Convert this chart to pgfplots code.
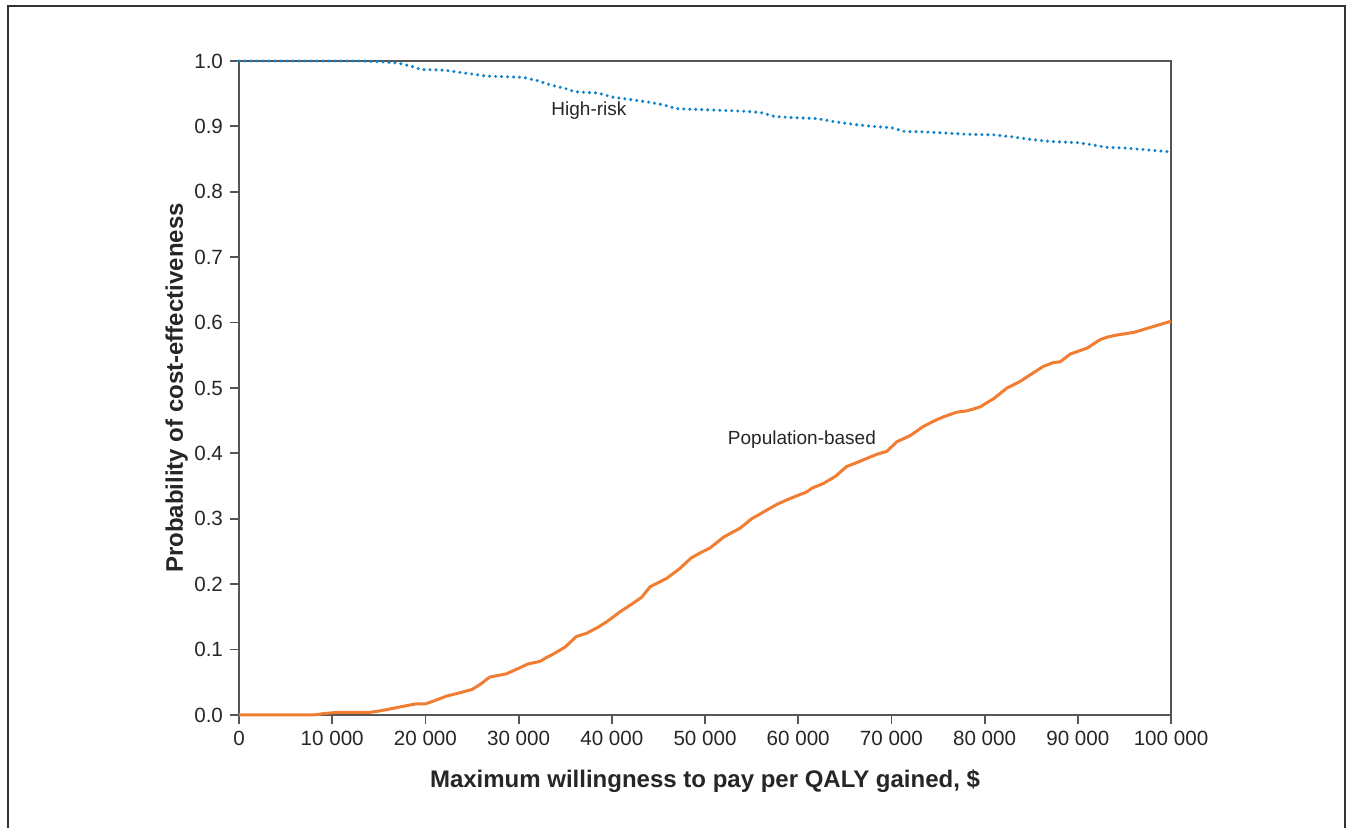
\documentclass[border=0pt]{standalone}
\usepackage{pgfplots}
\pgfplotsset{compat=1.18}
\usepackage{fontspec}
\setmainfont{Liberation Sans}
\definecolor{hrblue}{RGB}{15,130,205}
\definecolor{poporange}{RGB}{240,125,50}
\definecolor{axgray}{RGB}{85,85,85}
\begin{document}
\begin{tikzpicture}
\begin{axis}[
  at={(0,0)}, anchor=south west,
  scale only axis, width=466pt, height=327pt,
  xmin=0, xmax=100000, ymin=0, ymax=1,
  clip=false,
  axis line style={axgray, line width=0.9pt},
  xtick={0,10000,20000,30000,40000,50000,60000,70000,80000,90000,100000},
  xticklabels={0,10 000,20 000,30 000,40 000,50 000,60 000,70 000,80 000,90 000,100 000},
  ytick={0,0.1,0.2,0.3,0.4,0.5,0.6,0.7,0.8,0.9,1.0},
  yticklabels={0.0,0.1,0.2,0.3,0.4,0.5,0.6,0.7,0.8,0.9,1.0},
  scaled x ticks=false,
  tick align=outside, xtick pos=bottom, ytick pos=left,
  major tick length=4.5pt,
  tick style={axgray, line width=0.9pt},
  ticklabel style={font=\fontsize{10.3}{12}\selectfont, text=black!85},
  xlabel={Maximum willingness to pay per QALY gained, \$},
  ylabel={Probability of cost-effectiveness},
  label style={font=\fontsize{12}{14}\selectfont\bfseries, text=black!85},
  xlabel style={at={(axis description cs:0.5,-0.1116)}, anchor=base},
  ylabel style={at={(axis description cs:-0.0601,0.5)}, anchor=base},
]
\addplot[hrblue, line width=1.7pt, line cap=round, dash pattern=on 0pt off 3pt] coordinates {
(0,1.0) (10000,1.0) (13000,1.0) (15000,0.999) (17000,0.997) (18500,0.992) (19500,0.987)
(22000,0.986) (23500,0.983) (25000,0.980) (26500,0.977) (30500,0.975) (32000,0.970)
(33500,0.963) (35000,0.958) (36000,0.953) (38500,0.951) (40000,0.945) (42000,0.941)
(44000,0.937) (45500,0.933) (47000,0.927) (49000,0.926) (54500,0.923) (56000,0.921)
(57500,0.915) (60000,0.913) (62000,0.912) (64000,0.907) (66000,0.903) (68000,0.900)
(70000,0.898) (71500,0.892) (73000,0.892) (75500,0.890) (78000,0.888) (81000,0.887)
(83000,0.884) (85000,0.880) (87000,0.877) (90000,0.875) (91500,0.872) (93000,0.868)
(95000,0.867) (97500,0.864) (100000,0.861)
};
\addplot[poporange, line width=1.5pt, line join=round] coordinates {
(0,0) (8000,0) (9000,0.002) (10500,0.004) (14000,0.004) (15000,0.006) (16500,0.010)
(17500,0.013) (19000,0.017) (20000,0.017) (21000,0.022) (22300,0.029) (23700,0.034)
(25000,0.039) (25900,0.047) (26900,0.058) (28000,0.061) (28700,0.063) (30100,0.072)
(31000,0.078) (32300,0.082) (33000,0.088) (33700,0.093) (35000,0.104) (36200,0.120)
(37300,0.125) (38500,0.134) (39500,0.143) (40900,0.158) (42300,0.171) (43200,0.180)
(44100,0.196) (45900,0.209) (47300,0.224) (48500,0.240) (49500,0.248) (50500,0.255)
(52000,0.272) (53800,0.286) (55000,0.300) (56600,0.313) (57700,0.322) (58800,0.329)
(60000,0.336) (60900,0.341) (61500,0.347) (62700,0.354) (64000,0.365) (65200,0.380)
(66300,0.386) (67300,0.392) (68500,0.399) (69500,0.403) (70600,0.418) (72000,0.427)
(73400,0.441) (74500,0.449) (75600,0.456) (77000,0.463) (78100,0.465) (79500,0.471)
(81000,0.484) (82400,0.500) (83800,0.510) (85200,0.523) (86300,0.533) (87400,0.539)
(88100,0.540) (89200,0.552) (91000,0.561) (92400,0.574) (93200,0.578) (94200,0.581)
(96000,0.585) (96700,0.588) (98100,0.594) (100000,0.602)
};
\node[font=\fontsize{9.5}{11}\selectfont, text=black!85] at (axis cs:37550,0.9235) {High-risk};
\node[font=\fontsize{9.5}{11}\selectfont, text=black!85] at (axis cs:60400,0.4205) {Population-based};
\end{axis}
\draw[black!80, line width=0.9pt] (-115.5pt,-56.5pt) -- (-115.5pt,354.5pt) -- (553pt,354.5pt) -- (553pt,-56.5pt);
\pgfresetboundingbox
\path[use as bounding box] (-119.5pt,-56.5pt) rectangle (557pt,357.5pt);
\end{tikzpicture}
\end{document}
